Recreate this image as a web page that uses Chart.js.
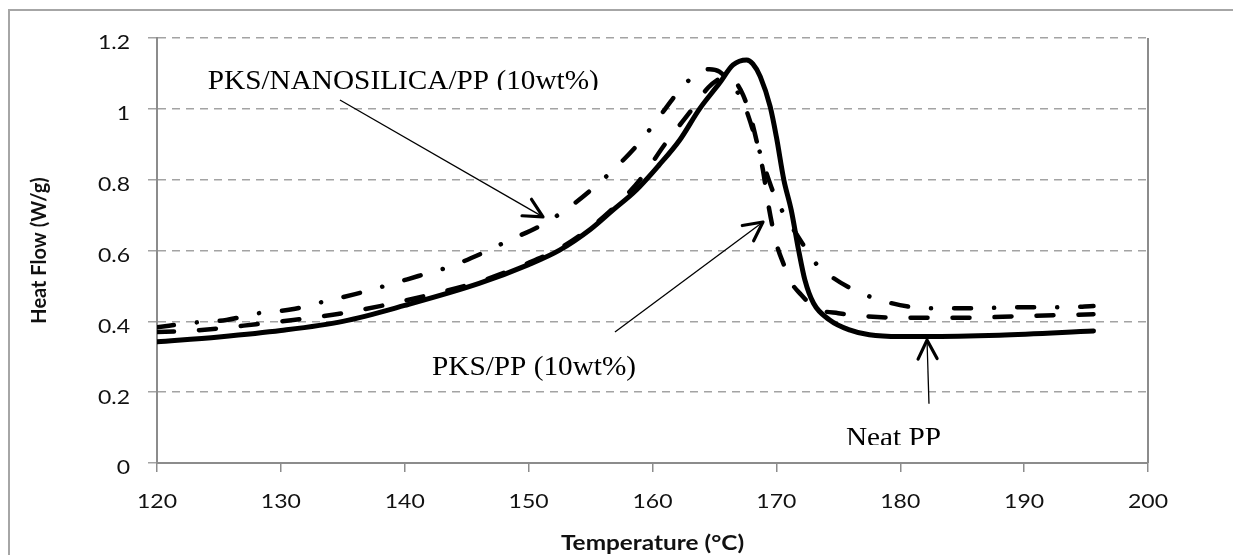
<!DOCTYPE html>
<html>
<head>
<meta charset="utf-8">
<script src="https://cdn.jsdelivr.net/npm/chart.js@4/dist/chart.umd.min.js"></script>
<style>
  body { margin: 0; background: #fff; }
  #wrap { width: 1233px; height: 555px; }
</style>
</head>
<body>
<div id="wrap"><canvas id="dsc" width="1233" height="555"></canvas></div>
<script>
// Neat PP (solid)
const neatTemp = [120, 125, 130, 135, 140, 146, 150, 152.5, 155, 156.8, 158.7, 160.5, 162.2, 163.8, 165.4, 166.5, 167.6, 168.1, 168.7, 169.5, 170, 170.6, 171.2, 171.8, 172.3, 173, 174.3, 175.9, 177.5, 180, 182, 188, 195.6];
const neatFlow = [0.342, 0.356, 0.374, 0.400, 0.445, 0.507, 0.56, 0.601, 0.66, 0.714, 0.771, 0.84, 0.912, 1.0, 1.072, 1.124, 1.138, 1.127, 1.091, 1.006, 0.921, 0.80, 0.714, 0.60, 0.517, 0.451, 0.404, 0.376, 0.362, 0.357, 0.357, 0.361, 0.373];

// PKS/PP 10wt% (dashed)
const pksTemp = [120, 122, 125, 128, 131, 135, 138, 142, 146, 150, 152.5, 155, 157, 159, 161, 163, 164.5, 165.4, 166, 166.6, 167.3, 167.9, 168.4, 168.9, 169.4, 170, 170.6, 171.2, 172, 172.7, 173.5, 175, 177, 180, 185, 190, 195.6];
const pksFlow = [0.37, 0.372, 0.38, 0.392, 0.404, 0.423, 0.443, 0.475, 0.512, 0.565, 0.606, 0.665, 0.725, 0.80, 0.90, 0.99, 1.06, 1.085, 1.09, 1.08, 1.04, 0.98, 0.91, 0.83, 0.72, 0.62, 0.56, 0.51, 0.475, 0.45, 0.432, 0.423, 0.415, 0.41, 0.41, 0.415, 0.42];

// PKS/NANOSILICA/PP 10wt% (dash-dot)
const nanoTemp = [120, 122.9, 125.6, 128.2, 130.9, 133.4, 136, 138.2, 141.1, 143.6, 146.1, 148.5, 150.9, 153.2, 155.2, 157.2, 159, 160.6, 162.2, 163.6, 164.6, 165.4, 166.3, 167.3, 168.2, 169, 169.8, 170.5, 171.1, 172.1, 173.1, 174.5, 175.8, 177.6, 179.2, 181, 182.7, 186, 190, 193.5, 195.6];
const nanoFlow = [0.383, 0.396, 0.404, 0.423, 0.434, 0.455, 0.477, 0.498, 0.528, 0.554, 0.59, 0.63, 0.669, 0.72, 0.776, 0.84, 0.907, 0.98, 1.053, 1.10, 1.112, 1.105, 1.072, 1.02, 0.93, 0.84, 0.76, 0.71, 0.675, 0.62, 0.567, 0.525, 0.497, 0.469, 0.452, 0.44, 0.437, 0.437, 0.44, 0.44, 0.443];

const xTicks = [120, 130, 140, 150, 160, 170, 180, 190, 200];
const yTicks = [0, 0.2, 0.4, 0.6, 0.8, 1, 1.2];

function pts(xs, ys) {
    return xs.map((x, i) => ({x: x, y: ys[i]}));
}

const axisGray = '#8c8c8c';
const gridGray = '#a3a3a3';
const sans = 'Lato, "Open Sans", sans-serif';

// frame round the whole figure + right edge of plot box
const frame = {
    id: 'frame',
    beforeDraw(chart) {
        const ctx = chart.ctx;
        ctx.save();
        ctx.fillStyle = '#fff';
        ctx.fillRect(0, 0, chart.width, chart.height);
        ctx.strokeStyle = '#a6a6a6';
        ctx.lineWidth = 2;
        ctx.beginPath();
        ctx.moveTo(9, chart.height);
        ctx.lineTo(9, 10);
        ctx.lineTo(chart.width, 10);
        ctx.stroke();
        ctx.restore();
    },
    afterDraw(chart) {
        const a = chart.chartArea, ctx = chart.ctx;
        ctx.save();
        ctx.strokeStyle = axisGray;
        ctx.lineWidth = 2;
        ctx.beginPath();
        ctx.moveTo(a.right, a.top);
        ctx.lineTo(a.right, a.bottom);
        ctx.stroke();
        ctx.restore();
    }
};

// text drawn a bit wider than the font, the figure was stretched sideways
function wide(ctx, text, x, y, align, sx) {
    ctx.save();
    ctx.translate(x, y);
    ctx.scale(sx, 1);
    ctx.textAlign = align;
    ctx.fillText(text, 0, 0);
    ctx.restore();
}

const axisText = {
    id: 'axisText',
    afterDraw(chart) {
        const ctx = chart.ctx, sx = chart.scales.x, sy = chart.scales.y, a = chart.chartArea;
        ctx.save();
        ctx.fillStyle = '#111';
        ctx.textBaseline = 'middle';
        ctx.font = '20px ' + sans;
        sy.ticks.forEach(t => {
            wide(ctx, String(Math.round(t.value * 10) / 10), a.left - 27, sy.getPixelForValue(t.value) + 5, 'right', 1.15);
        });
        sx.ticks.forEach(t => {
            wide(ctx, String(t.value), sx.getPixelForValue(t.value), a.bottom + 39, 'center', 1.15);
        });
        ctx.font = 'bold 21px ' + sans;
        wide(ctx, 'Temperature (°C)', (a.left + a.right) / 2, a.bottom + 80, 'center', 1.16);
        ctx.restore();
    }
};

function arrow(ctx, x1, y1, x2, y2) {
    const ang = Math.atan2(y2 - y1, x2 - x1);
    ctx.save();
    ctx.strokeStyle = '#000';
    ctx.lineWidth = 1.3;
    ctx.beginPath();
    ctx.moveTo(x1, y1);
    ctx.lineTo(x2, y2);
    ctx.stroke();
    ctx.lineWidth = 3.2;
    ctx.lineCap = 'round';
    ctx.lineJoin = 'round';
    const len = 21, spread = 0.47;
    ctx.beginPath();
    ctx.moveTo(x2 - len * Math.cos(ang - spread), y2 - len * Math.sin(ang - spread));
    ctx.lineTo(x2, y2);
    ctx.lineTo(x2 - len * Math.cos(ang + spread), y2 - len * Math.sin(ang + spread));
    ctx.stroke();
    ctx.restore();
}

function note(ctx, text, px, py, clip) {
    ctx.save();
    if (clip !== null) {
        ctx.beginPath();
        ctx.rect(0, 0, 1233, py + clip);
        ctx.clip();
    }
    ctx.fillStyle = '#000';
    ctx.font = '28px "Liberation Serif", "Times New Roman", serif';
    ctx.textBaseline = 'alphabetic';
    wide(ctx, text, px, py, 'left', 1.045);
    ctx.restore();
}

const notes = {
    id: 'notes',
    afterDatasetsDraw(chart) {
        const ctx = chart.ctx, sx = chart.scales.x, sy = chart.scales.y;
        const X = v => sx.getPixelForValue(v), Y = v => sy.getPixelForValue(v);

        note(ctx, 'PKS/NANOSILICA/PP (10wt%)', X(124.1), Y(1.056), 1);
        arrow(ctx, X(134.77), Y(1.025), X(151.16), Y(0.695));

        note(ctx, 'PKS/PP (10wt%)', X(142.2), Y(0.2485), null);
        arrow(ctx, X(156.97), Y(0.37), X(168.92), Y(0.6805));

        note(ctx, 'Neat PP', X(175.62), Y(0.048), -1);
        arrow(ctx, X(182.32), Y(0.167), X(182.16), Y(0.347));
    }
};

const ctx = document.getElementById('dsc');
var myChart = new Chart(ctx, {
    type: 'line',
    data: {
        datasets: [{
            label: 'Neat PP',
            data: pts(neatTemp, neatFlow),
            borderColor: '#000',
            borderWidth: 5,
            borderCapStyle: 'round',
            borderJoinStyle: 'round'
        }, {
            label: 'PKS/PP (10wt%)',
            data: pts(pksTemp, pksFlow),
            borderColor: '#000',
            borderWidth: 4.5,
            borderDash: [17, 25],
            borderCapStyle: 'round',
            borderJoinStyle: 'round'
        }, {
            label: 'PKS/NANOSILICA/PP (10wt%)',
            data: pts(nanoTemp, nanoFlow),
            borderColor: '#000',
            borderWidth: 4.5,
            borderDash: [17, 23, 0.1, 23],
            borderCapStyle: 'round',
            borderJoinStyle: 'round'
        }]
    },
    options: {
        responsive: false,
        animation: false,
        devicePixelRatio: 1,
        layout: { padding: { left: 0, top: 38, right: 85, bottom: 0 } },
        elements: {
            point: { radius: 0 },
            line: { cubicInterpolationMode: 'monotone', fill: false }
        },
        plugins: {
            legend: { display: false },
            tooltip: { enabled: false }
        },
        scales: {
            x: {
                type: 'linear',
                min: 120,
                max: 200,
                afterBuildTicks: s => { s.ticks = xTicks.map(v => ({value: v})); },
                afterFit: s => { s.height = 92; },
                grid: { drawOnChartArea: false, drawTicks: true, tickLength: 9, color: axisGray, lineWidth: 1.5 },
                border: { color: axisGray, width: 2 },
                ticks: { display: false }
            },
            y: {
                min: 0,
                max: 1.2,
                afterBuildTicks: s => { s.ticks = yTicks.map(v => ({value: v})); },
                afterFit: s => { s.width = 157; },
                grid: { color: gridGray, lineWidth: 1.5, tickLength: 9, tickColor: gridGray },
                border: { color: axisGray, width: 2, dash: [8, 6] },
                ticks: { display: false },
                title: {
                    display: true,
                    text: 'Heat Flow (W/g)',
                    color: '#111',
                    font: { family: sans, size: 20, weight: 'bold' },
                    padding: { top: 28, bottom: 0 }
                }
            }
        }
    },
    plugins: [frame, axisText, notes]
});
</script>
</body>
</html>
